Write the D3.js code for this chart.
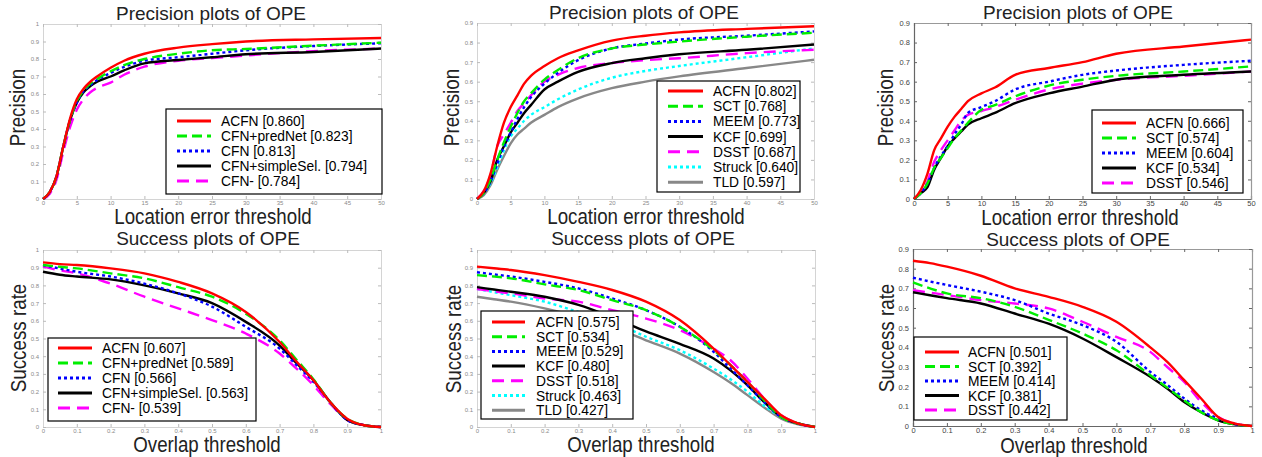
<!DOCTYPE html>
<html><head><meta charset="utf-8">
<script src="https://cdn.jsdelivr.net/npm/d3@7"></script>
<style>body{margin:0;background:#fff}svg{display:block}text{font-family:"Liberation Sans",Arial,sans-serif}</style>
</head><body>
<svg id="c" width="1262" height="457"></svg>
<script>
// ---------- DATA ----------
const precX = [0,1,2,3,4,5,6,7,8,10,12,15,20,25,30,40,50];
const succX = [0,0.05,0.1,0.2,0.3,0.4,0.5,0.6,0.7,0.75,0.8,0.85,0.9,0.95,1];

// Panel 1: precision, ablation
const p1Names = ["ACFN","CFN+predNet","CFN","CFN+simpleSel.","CFN-"];
const p1Scores = ["0.860","0.823","0.813","0.794","0.784"];
const p1_ACFN = [0,0.04,0.13,0.30,0.46,0.57,0.63,0.67,0.70,0.75,0.79,0.83,0.865,0.885,0.90,0.912,0.92];
const p1_pred = [0,0.04,0.13,0.30,0.45,0.56,0.62,0.66,0.685,0.73,0.765,0.80,0.83,0.85,0.857,0.876,0.893];
const p1_CFN  = [0,0.04,0.13,0.30,0.45,0.55,0.615,0.65,0.68,0.72,0.755,0.79,0.81,0.83,0.85,0.874,0.89];
const p1_simp = [0,0.04,0.13,0.30,0.45,0.55,0.61,0.645,0.67,0.70,0.735,0.775,0.794,0.81,0.827,0.84,0.86];
const p1_minus= [0,0.03,0.11,0.27,0.41,0.51,0.57,0.61,0.635,0.665,0.71,0.756,0.79,0.805,0.82,0.845,0.86];

// Panel 2: precision, trackers
const p2Names = ["ACFN","SCT","MEEM","KCF","DSST","Struck","TLD"];
const p2Scores = ["0.802","0.768","0.773","0.699","0.687","0.640","0.597"];
const p2_ACFN  = [0,0.04,0.13,0.27,0.39,0.47,0.53,0.59,0.63,0.68,0.72,0.76,0.81,0.835,0.852,0.87,0.883];
const p2_SCT   = [0,0.03,0.10,0.20,0.29,0.37,0.44,0.50,0.54,0.61,0.66,0.72,0.77,0.79,0.805,0.83,0.85];
const p2_MEEM  = [0,0.03,0.09,0.18,0.27,0.34,0.41,0.47,0.52,0.59,0.645,0.71,0.77,0.795,0.815,0.835,0.857];
const p2_KCF   = [0,0.03,0.09,0.20,0.27,0.34,0.39,0.44,0.48,0.56,0.60,0.65,0.695,0.72,0.74,0.763,0.79];
const p2_DSST  = [0,0.04,0.12,0.27,0.33,0.39,0.45,0.49,0.53,0.60,0.635,0.67,0.695,0.71,0.72,0.746,0.763];
const p2_Struck= [0,0.03,0.08,0.16,0.25,0.32,0.36,0.40,0.43,0.47,0.51,0.56,0.62,0.655,0.68,0.725,0.77];
const p2_TLD   = [0,0.02,0.07,0.15,0.22,0.285,0.33,0.36,0.39,0.43,0.47,0.515,0.567,0.60,0.627,0.67,0.712];

// Panel 3: precision, trackers (5)
const p3Names = ["ACFN","SCT","MEEM","KCF","DSST"];
const p3Scores = ["0.666","0.574","0.604","0.534","0.546"];
const p3_ACFN = [0,0.046,0.13,0.25,0.31,0.37,0.42,0.46,0.50,0.54,0.57,0.635,0.67,0.70,0.743,0.78,0.815];
const p3_SCT  = [0,0.03,0.08,0.16,0.21,0.26,0.31,0.35,0.39,0.456,0.48,0.525,0.58,0.61,0.63,0.652,0.678];
const p3_MEEM = [0,0.03,0.08,0.16,0.22,0.27,0.33,0.38,0.44,0.47,0.50,0.56,0.60,0.635,0.657,0.686,0.707];
const p3_KCF  = [0,0.03,0.06,0.15,0.21,0.27,0.31,0.345,0.38,0.413,0.44,0.49,0.54,0.575,0.61,0.635,0.652];
const p3_DSST = [0,0.03,0.09,0.19,0.25,0.30,0.35,0.40,0.43,0.45,0.47,0.507,0.56,0.59,0.61,0.63,0.652];

// Panel 4: success, ablation
const p4Scores = ["0.607","0.589","0.566","0.563","0.539"];
const p4_ACFN = [0.93,0.92,0.915,0.896,0.868,0.82,0.755,0.65,0.48,0.37,0.264,0.14,0.047,0.01,0];
const p4_pred = [0.915,0.905,0.896,0.868,0.84,0.79,0.736,0.64,0.49,0.38,0.27,0.14,0.047,0.01,0];
const p4_CFN  = [0.915,0.895,0.877,0.85,0.81,0.755,0.68,0.566,0.443,0.35,0.255,0.14,0.04,0.01,0];
const p4_simp = [0.877,0.86,0.85,0.834,0.80,0.755,0.70,0.594,0.46,0.36,0.264,0.14,0.04,0.01,0];
const p4_minus= [0.906,0.885,0.868,0.81,0.736,0.67,0.604,0.528,0.415,0.33,0.236,0.13,0.04,0.01,0];

// Panel 5: success, trackers
const p5Scores = ["0.575","0.534","0.529","0.480","0.518","0.463","0.427"];
const p5_ACFN  = [0.906,0.897,0.887,0.858,0.82,0.774,0.708,0.604,0.443,0.35,0.255,0.16,0.066,0.02,0];
const p5_SCT   = [0.858,0.85,0.84,0.806,0.774,0.717,0.66,0.566,0.434,0.35,0.255,0.15,0.057,0.02,0];
const p5_MEEM  = [0.874,0.862,0.85,0.82,0.783,0.726,0.66,0.566,0.425,0.33,0.236,0.14,0.057,0.02,0];
const p5_KCF   = [0.79,0.777,0.764,0.736,0.69,0.62,0.54,0.47,0.387,0.32,0.236,0.14,0.057,0.02,0];
const p5_DSST  = [0.78,0.767,0.755,0.726,0.708,0.66,0.613,0.547,0.443,0.377,0.274,0.16,0.066,0.02,0];
const p5_Struck= [0.78,0.762,0.745,0.708,0.65,0.594,0.51,0.434,0.33,0.27,0.20,0.12,0.057,0.02,0];
const p5_TLD   = [0.736,0.722,0.708,0.67,0.623,0.566,0.49,0.415,0.311,0.25,0.18,0.11,0.047,0.015,0];

// Panel 6: success, trackers (5)
const p6Scores = ["0.501","0.392","0.414","0.381","0.442"];
const p6_ACFN = [0.84,0.828,0.81,0.764,0.70,0.657,0.606,0.53,0.40,0.326,0.233,0.14,0.046,0.012,0];
const p6_SCT  = [0.73,0.70,0.674,0.65,0.606,0.54,0.47,0.385,0.258,0.195,0.13,0.07,0.029,0.008,0];
const p6_MEEM = [0.754,0.735,0.717,0.683,0.64,0.572,0.513,0.428,0.275,0.21,0.14,0.08,0.037,0.01,0];
const p6_KCF  = [0.68,0.665,0.65,0.623,0.572,0.52,0.445,0.35,0.25,0.19,0.122,0.07,0.029,0.008,0];
const p6_DSST = [0.69,0.678,0.666,0.64,0.623,0.598,0.53,0.453,0.377,0.30,0.224,0.122,0.046,0.012,0];

const precTicks = [0,5,10,15,20,25,30,35,40,45,50];
const succTicks = [0,0.1,0.2,0.3,0.4,0.5,0.6,0.7,0.8,0.9,1];
const yTicks10 = [0,0.1,0.2,0.3,0.4,0.5,0.6,0.7,0.8,0.9,1];
const yTicks9 = [0,0.1,0.2,0.3,0.4,0.5,0.6,0.7,0.8,0.9];

// ---------- STYLES ----------
const style = {
  red:    {c:"#ff0000", d:null},
  green:  {c:"#00ee00", d:"10,5"},
  blue:   {c:"#0000ff", d:"3,3"},
  black:  {c:"#000000", d:null},
  magenta:{c:"#ff00ff", d:"12,7"},
  cyan:   {c:"#00ffff", d:"3,3"},
  gray:   {c:"#888888", d:null}
};
const ablStyles = ["red","green","blue","black","magenta"];
const trkStyles7 = ["red","green","blue","black","magenta","cyan","gray"];

const panels = [
  {title:"Precision plots of OPE", xl:"Location error threshold", yl:"Precision",
   xs:precX, xd:[0,50], yd:[0,1], xt:precTicks, yt:yTicks10, dark:false,
   box:[43,381,24,199], titleXY:[211,19.5], xlXY:[213,224], ylXY:[25,107.5],
   names:p1Names, scores:p1Scores, series:[p1_ACFN,p1_pred,p1_CFN,p1_simp,p1_minus], st:ablStyles,
   leg:{x:166,y:109,w:216,h:85,r0:121,dr:15,s0:177,s1:211,tx:221}},
  {title:"Precision plots of OPE", xl:"Location error threshold", yl:"Precision",
   xs:precX, xd:[0,50], yd:[0,0.9], xt:precTicks, yt:yTicks9, dark:false,
   box:[477,814,23,199], titleXY:[644,19], xlXY:[646,224], ylXY:[459,107.5],
   names:p2Names, scores:p2Scores, series:[p2_ACFN,p2_SCT,p2_MEEM,p2_KCF,p2_DSST,p2_Struck,p2_TLD], st:trkStyles7,
   leg:{x:657,y:81,w:143,h:111,r0:91,dr:15.2,s0:668,s1:703,tx:713}},
  {title:"Precision plots of OPE", xl:"Location error threshold", yl:"Precision",
   xs:precX, xd:[0,50], yd:[0,0.9], xt:precTicks, yt:yTicks9, dark:true,
   box:[914,1251,23,199], titleXY:[1078,19], xlXY:[1080,225], ylXY:[893,107.5],
   names:p3Names, scores:p3Scores, series:[p3_ACFN,p3_SCT,p3_MEEM,p3_KCF,p3_DSST], st:ablStyles,
   leg:{x:1092,y:110,w:151,h:83,r0:123,dr:15,s0:1102,s1:1136,tx:1146}},
  {title:"Success plots of OPE", xl:"Overlap threshold", yl:"Success rate",
   xs:succX, xd:[0,1], yd:[0,1], xt:succTicks, yt:yTicks10, dark:false,
   box:[43,381,250,427], titleXY:[208,245], xlXY:[207,452], ylXY:[26,338],
   names:p1Names, scores:p4Scores, series:[p4_ACFN,p4_pred,p4_CFN,p4_simp,p4_minus], st:ablStyles,
   leg:{x:48,y:338,w:208,h:83,r0:348,dr:15,s0:58,s1:92,tx:102}},
  {title:"Success plots of OPE", xl:"Overlap threshold", yl:"Success rate",
   xs:succX, xd:[0,1], yd:[0,1], xt:succTicks, yt:yTicks10, dark:false,
   box:[477,815,250,427], titleXY:[643,245], xlXY:[641,452], ylXY:[461,339],
   names:p2Names, scores:p5Scores, series:[p5_ACFN,p5_SCT,p5_MEEM,p5_KCF,p5_DSST,p5_Struck,p5_TLD], st:trkStyles7,
   leg:{x:481,y:311,w:152,h:108,r0:322,dr:14.7,s0:492,s1:525,tx:536}},
  {title:"Success plots of OPE", xl:"Overlap threshold", yl:"Success rate",
   xs:succX, xd:[0,1], yd:[0,0.9], xt:succTicks, yt:yTicks9, dark:true,
   box:[913,1252,249,426], titleXY:[1078,246], xlXY:[1074,453], ylXY:[894,338],
   names:p3Names, scores:p6Scores, series:[p6_ACFN,p6_SCT,p6_MEEM,p6_KCF,p6_DSST], st:ablStyles,
   leg:{x:914,y:337,w:153,h:83,r0:352,dr:14.5,s0:925,s1:959,tx:968}}
];

const svg = d3.select("#c");

panels.forEach(p => {
  const [x0,x1,y0,y1] = p.box;
  const x = d3.scaleLinear().domain(p.xd).range([x0,x1]);
  const y = d3.scaleLinear().domain(p.yd).range([y1,y0]);
  const g = svg.append("g");
  const frameCol = p.dark ? "#666" : "#d4d4d4";
  const tickCol = p.dark ? "#666" : "#bbb";
  const labCol = p.dark ? "#444" : "#8a8a8a";
  const fs = p.dark ? 7.5 : 6;
  const fmt = v => (v===0 ? "0" : (v===1 ? "1" : d3.format(".1f")(v)));
  const fmtx = p.xd[1]===50 ? (v=>String(v)) : fmt;

  // axes
  const ax = g.append("g").attr("transform",`translate(0,${y1})`)
    .call(d3.axisBottom(x).tickValues(p.xt).tickSize(-3).tickPadding(p.dark?2:1.5).tickFormat(fmtx));
  const ay = g.append("g").attr("transform",`translate(${x0},0)`)
    .call(d3.axisLeft(y).tickValues(p.yt).tickSize(-3).tickPadding(4).tickFormat(fmt));
  const axT = g.append("g").attr("transform",`translate(0,${y0})`)
    .call(d3.axisTop(x).tickValues(p.xt).tickSize(-3).tickFormat(""));
  const ayR = g.append("g").attr("transform",`translate(${x1},0)`)
    .call(d3.axisRight(y).tickValues(p.yt).tickSize(-3).tickFormat(""));
  [ax,ay,axT,ayR].forEach(a=>{
    a.select(".domain").attr("stroke", frameCol).attr("stroke-width", p.dark?1.2:1);
    a.selectAll(".tick line").attr("stroke", tickCol);
    a.selectAll(".tick text").attr("fill", labCol).style("font-size", fs+"px")
      .style("font-family","'Liberation Sans',Arial,sans-serif");
  });
  if (p.dark) { axT.select(".domain").attr("stroke","#999"); ayR.select(".domain").attr("stroke","#999"); }

  // curves
  const line = d3.line().x((d,i)=>x(p.xs[i])).y(d=>y(d)).curve(d3.curveMonotoneX);
  const order = p.series.map((s,i)=>i).reverse();
  order.forEach(i=>{
    const s = style[p.st[i]];
    g.append("path").datum(p.series[i]).attr("d", line)
      .attr("fill","none").attr("stroke", s.c).attr("stroke-width", 2.4)
      .attr("stroke-dasharray", s.d);
  });

  // legend
  const L = p.leg;
  g.append("rect").attr("x",L.x).attr("y",L.y).attr("width",L.w).attr("height",L.h)
    .attr("fill","#fff").attr("stroke","#000").attr("stroke-width",1.2);
  p.names.forEach((n,i)=>{
    const s = style[p.st[i]];
    const yy = L.r0 + i*L.dr;
    g.append("line").attr("x1",L.s0).attr("x2",L.s1).attr("y1",yy).attr("y2",yy)
      .attr("stroke", s.c).attr("stroke-width",3).attr("stroke-dasharray", s.d);
    g.append("text").attr("x",L.tx).attr("y",yy+5).text(`${n} [${p.scores[i]}]`)
      .style("font-size","13.8px").attr("fill","#000");
  });

  // titles and labels
  g.append("text").attr("x",p.titleXY[0]).attr("y",p.titleXY[1]).attr("text-anchor","middle")
    .style("font-size","19px").attr("fill","#222").text(p.title);
  g.append("text").attr("transform",`translate(${p.xlXY[0]},${p.xlXY[1]}) scale(1,1.18)`)
    .attr("text-anchor","middle").style("font-size","18.7px").attr("fill","#222").text(p.xl);
  g.append("text").attr("transform",`translate(${p.ylXY[0]},${p.ylXY[1]}) rotate(-90) scale(1,1.2)`)
    .attr("text-anchor","middle").style("font-size","18.8px").attr("fill","#222").text(p.yl);
});
</script>
</body></html>
